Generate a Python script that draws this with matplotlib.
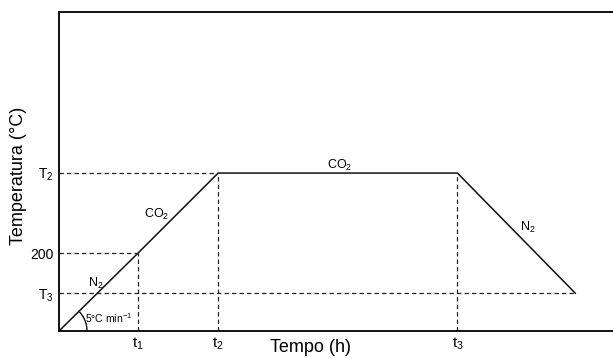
import numpy as np
import matplotlib
matplotlib.use("Agg")
import matplotlib.pyplot as plt

plt.rcParams['font.family'] = ['Liberation Sans', 'DejaVu Sans']
plt.rcParams['mathtext.fontset'] = 'custom'
plt.rcParams['mathtext.rm'] = 'Liberation Sans'
plt.rcParams['mathtext.it'] = 'Liberation Sans'

# Temperature program data (time in h, temperature in °C)
times = [0.0, 0.671, 1.35, 3.38, 4.38]
temps = [0.0, 200.0, 405.0, 405.0, 97.0]
time_ticks = [0.671, 1.35, 3.38]
time_labels = [r'$\mathregular{t_1}$', r'$\mathregular{t_2}$', r'$\mathregular{t_3}$']
temp_ticks = [97.0, 200.0, 405.0]
temp_labels = [r'$\mathregular{T_3}$', '200', r'$\mathregular{T_2}$']
xmax, ymax = 4.70, 818.0

fig = plt.figure(figsize=(6.13, 3.59), dpi=100)
ax = fig.add_axes([59/613, 28/359, 554/613, 319/359])
ax.set_xlim(0, xmax)
ax.set_ylim(0, ymax)

# profile (solid)
ax.plot(times, temps, color='#111111', lw=1.1, solid_joinstyle='miter')

dash = (0, (3.5, 2.5))
# horizontal dashed guides from y axis
ax.plot([0, times[1]], [temps[1], temps[1]], color='#222222', lw=0.9, linestyle=dash)
ax.plot([0, times[2]], [temps[2], temps[2]], color='#222222', lw=0.9, linestyle=dash)
ax.plot([0, times[4]], [temps[4], temps[4]], color='#222222', lw=0.9, linestyle=dash)
# vertical dashed guides
for t, T in zip(times[1:4], temps[1:4]):
    ax.plot([t, t], [0, T], color='#222222', lw=0.9, linestyle=dash)

# angle arc at origin
px_x = xmax / 554.0
px_y = ymax / 319.0
r = 28.0
ang = np.arctan2((temps[2] / px_y), (times[2] / px_x))
th = np.linspace(0, ang, 50)
ax.plot(r * np.cos(th) * px_x, r * np.sin(th) * px_y, color='#111111', lw=1.0)

# annotations
fs = 9
ax.text(26 * px_x, (331 - 318) * px_y, r'5°C min$^{\mathregular{-1}}$', fontsize=7.5,
        ha='left', va='center')
ax.text(37 * px_x, (331 - 283) * px_y, r'$\mathregular{N_2}$', fontsize=fs, ha='center', va='center')
ax.text(98 * px_x, (331 - 214) * px_y, r'$\mathregular{CO_2}$', fontsize=fs, ha='center', va='center')
ax.text(281 * px_x, (331 - 165) * px_y, r'$\mathregular{CO_2}$', fontsize=fs, ha='center', va='center')
ax.text(469 * px_x, (331 - 227) * px_y, r'$\mathregular{N_2}$', fontsize=fs, ha='center', va='center')

ax.set_xticks(time_ticks)
ax.set_xticklabels(time_labels, fontsize=11)
ax.set_yticks(temp_ticks)
ax.set_yticklabels(temp_labels, fontsize=10)
ax.tick_params(length=0, pad=4)
ax.tick_params(axis='x', pad=3)

for s in ['left', 'bottom', 'top']:
    ax.spines[s].set_linewidth(1.3)
ax.spines['right'].set_visible(False)

ax.set_xlabel('Tempo (h)', fontsize=13)
ax.xaxis.set_label_coords((310 - 59) / 554, (331 - 347) / 319)
ax.xaxis.label.set_verticalalignment('center')
ax.set_ylabel('Temperatura (°C)', fontsize=13)
ax.yaxis.set_label_coords((19 - 59) / 554, (331 - 176) / 319)
ax.yaxis.label.set_verticalalignment('center')

fig.savefig('out.png', dpi=100)
